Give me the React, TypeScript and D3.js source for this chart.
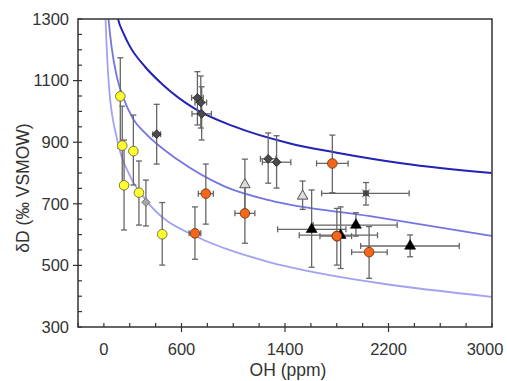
import React, { useRef, useEffect } from "react";
import * as d3 from "d3";

type Pt = { oh: number; dd: number; ohLo?: number; ohHi?: number; ddLo: number; ddHi: number };

// measured points, OH (ppm) vs dD (permil)
const yellowPoints: Pt[] = [
  { oh: 127, dd: 1049, ddLo: 880, ddHi: 1174 },
  { oh: 142, dd: 889, ddLo: 760, ddHi: 1017 },
  { oh: 156, dd: 760, ddLo: 615, ddHi: 907 },
  { oh: 228, dd: 871, ddLo: 761, ddHi: 988 },
  { oh: 271, dd: 736, ddLo: 631, ddHi: 839 },
  { oh: 451, dd: 601, ddLo: 501, ddHi: 704 },
];
const greyDiamondPoints: Pt[] = [{ oh: 325, dd: 705, ddLo: 628, ddHi: 777 }];
const darkDiamondPoints: Pt[] = [
  { oh: 408, dd: 926, ohLo: 378, ohHi: 438, ddLo: 829, ddHi: 1023 },
  { oh: 723, dd: 1044, ohLo: 678, ohHi: 768, ddLo: 956, ddHi: 1129 },
  { oh: 749, dd: 1029, ohLo: 704, ohHi: 794, ddLo: 946, ddHi: 1115 },
  { oh: 756, dd: 992, ohLo: 681, ohHi: 831, ddLo: 907, ddHi: 1080 },
  { oh: 1270, dd: 846, ohLo: 1210, ohHi: 1330, ddLo: 767, ddHi: 930 },
  { oh: 1335, dd: 835, ohLo: 1225, ohHi: 1445, ddLo: 751, ddHi: 921 },
];
const orangePoints: Pt[] = [
  { oh: 704, dd: 604, ohLo: 659, ohHi: 749, ddLo: 520, ddHi: 690 },
  { oh: 788, dd: 733, ohLo: 730, ohHi: 846, ddLo: 634, ddHi: 829 },
  { oh: 1090, dd: 669, ohLo: 1013, ohHi: 1167, ddLo: 572, ddHi: 765 },
  { oh: 1766, dd: 831, ohLo: 1644, ohHi: 1888, ddLo: 736, ddHi: 923 },
  { oh: 1801, dd: 595, ohLo: 1670, ohHi: 1915, ddLo: 501, ddHi: 685 },
  { oh: 2050, dd: 543, ohLo: 1915, ohHi: 2190, ddLo: 458, ddHi: 626 },
];
const openTrianglePoints: Pt[] = [
  { oh: 1090, dd: 762, ddLo: 680, ddHi: 845 },
  { oh: 1536, dd: 725, ddLo: 682, ddHi: 774 },
];
const blackTrianglePoints: Pt[] = [
  { oh: 1830, dd: 598, ohLo: 1510, ohHi: 2115, ddLo: 490, ddHi: 690 },
  { oh: 1606, dd: 617, ohLo: 1343, ohHi: 1871, ddLo: 494, ddHi: 745 },
  { oh: 1948, dd: 631, ohLo: 1618, ohHi: 2267, ddLo: 595, ddHi: 671 },
  { oh: 2367, dd: 563, ohLo: 1985, ohHi: 2747, ddLo: 528, ddHi: 599 },
];
const starPoints: Pt[] = [{ oh: 2026, dd: 734, ohLo: 1683, ohHi: 2360, ddLo: 696, ddHi: 769 }];

// model curves [OH, dD]
const curveUpper: [number, number][] = [
  [100, 1320], [111, 1298], [150, 1255], [200, 1212], [318, 1145], [447, 1090], [705, 1008],
  [1000, 952], [1439, 896], [1801, 866], [2314, 831], [2997, 800],
];
const curveMiddle: [number, number][] = [
  [30, 1330], [36, 1300], [60, 1208], [100, 1113], [150, 1045], [227, 975], [318, 930],
  [575, 842], [936, 756], [1284, 711], [2058, 660], [2997, 596],
];
const curveLower: [number, number][] = [
  [10, 1340], [13, 1300], [40, 1078], [99, 915], [200, 792], [318, 716], [744, 588],
  [936, 555], [1284, 510], [1903, 457], [2134, 442], [2997, 398],
];

const xMinorTicks = d3.range(-200, 3001, 200);
const xMajorTicks = [600, 1400, 2200];
const xTickLabels = [0, 600, 1400, 2200, 3000];
const yMinorTicks = d3.range(300, 1301, 50);
const yMajorTicks = [500, 700, 900, 1100];
const yTickLabels = [300, 500, 700, 900, 1100, 1300];

export default function App() {
  const svgRef = useRef<SVGSVGElement>(null);

  useEffect(() => {
    const svg = d3.select(svgRef.current);
    svg.selectAll("*").remove();

    const left = 78, top = 19, right = 492, bottom = 327;
    const x = d3.scaleLinear().domain([-200, 3000]).range([left, right]);
    const y = d3.scaleLinear().domain([300, 1300]).range([bottom, top]);
    const font = "Liberation Sans, Arial, sans-serif";
    const ink = "#333";

    svg.append("defs").append("clipPath").attr("id", "plotClip")
      .append("rect").attr("x", left).attr("y", top).attr("width", right - left).attr("height", bottom - top);

    // curves
    const line = d3.line<[number, number]>()
      .x((d) => x(d[0])).y((d) => y(d[1])).curve(d3.curveMonotoneX);
    const curves: [[number, number][], string, number][] = [
      [curveLower, "#a2a2f0", 1.8],
      [curveMiddle, "#7474e2", 1.8],
      [curveUpper, "#2222b4", 2],
    ];
    const cg = svg.append("g").attr("clip-path", "url(#plotClip)");
    curves.forEach(([pts, col, w]) => {
      cg.append("path").attr("d", line(pts)).attr("fill", "none").attr("stroke", col).attr("stroke-width", w);
    });

    // error bars
    const groups = [yellowPoints, greyDiamondPoints, darkDiamondPoints, orangePoints,
      openTrianglePoints, blackTrianglePoints, starPoints];
    const eg = svg.append("g").attr("stroke", "#666").attr("stroke-width", 1.3).attr("fill", "none");
    groups.flat().forEach((p) => {
      const cx = x(p.oh), cy = y(p.dd);
      eg.append("line").attr("x1", cx).attr("x2", cx).attr("y1", y(p.ddLo)).attr("y2", y(p.ddHi));
      eg.append("line").attr("x1", cx - 3).attr("x2", cx + 3).attr("y1", y(p.ddLo)).attr("y2", y(p.ddLo));
      eg.append("line").attr("x1", cx - 3).attr("x2", cx + 3).attr("y1", y(p.ddHi)).attr("y2", y(p.ddHi));
      if (p.ohLo !== undefined && p.ohHi !== undefined) {
        eg.append("line").attr("x1", x(p.ohLo)).attr("x2", x(p.ohHi)).attr("y1", cy).attr("y2", cy);
        eg.append("line").attr("x1", x(p.ohLo)).attr("x2", x(p.ohLo)).attr("y1", cy - 3).attr("y2", cy + 3);
        eg.append("line").attr("x1", x(p.ohHi)).attr("x2", x(p.ohHi)).attr("y1", cy - 3).attr("y2", cy + 3);
      }
    });

    // markers
    const mg = svg.append("g");
    const tr = (p: Pt) => `translate(${x(p.oh)},${y(p.dd)})`;
    mg.selectAll(".yel").data(yellowPoints).enter().append("circle")
      .attr("cx", (d) => x(d.oh)).attr("cy", (d) => y(d.dd)).attr("r", 4.8)
      .attr("fill", "#ffff2e").attr("stroke", "#6b6b3a").attr("stroke-width", 0.9);
    mg.selectAll(".gd").data(greyDiamondPoints).enter().append("path")
      .attr("d", d3.symbol().type(d3.symbolSquare).size(34)())
      .attr("transform", (d) => tr(d) + " rotate(45)")
      .attr("fill", "#a8a8a8").attr("stroke", "#6e6e6e").attr("stroke-width", 0.9);
    mg.selectAll(".dd").data(darkDiamondPoints).enter().append("path")
      .attr("d", d3.symbol().type(d3.symbolSquare).size(38)())
      .attr("transform", (d) => tr(d) + " rotate(45)")
      .attr("fill", "#4a4a4a").attr("stroke", "#2e2e2e").attr("stroke-width", 0.9);
    mg.selectAll(".or").data(orangePoints).enter().append("circle")
      .attr("cx", (d) => x(d.oh)).attr("cy", (d) => y(d.dd)).attr("r", 4.8)
      .attr("fill", "#f4661a").attr("stroke", "#7a3510").attr("stroke-width", 0.9);
    mg.selectAll(".ot").data(openTrianglePoints).enter().append("path")
      .attr("d", d3.symbol().type(d3.symbolTriangle).size(48)())
      .attr("transform", tr)
      .attr("fill", "#dcdcdc").attr("stroke", "#555").attr("stroke-width", 1);
    mg.selectAll(".bt").data(blackTrianglePoints).enter().append("path")
      .attr("d", d3.symbol().type(d3.symbolTriangle).size(52)())
      .attr("transform", tr)
      .attr("fill", "#000").attr("stroke", "#000").attr("stroke-width", 0.6);
    // the orange point that sits on a hidden triangle is redrawn on top
    mg.selectAll(".or2").data(orangePoints.filter((d) => d.oh === 1801)).enter().append("circle")
      .attr("cx", (d) => x(d.oh)).attr("cy", (d) => y(d.dd)).attr("r", 4.8)
      .attr("fill", "#f4661a").attr("stroke", "#7a3510").attr("stroke-width", 0.9);
    mg.selectAll(".st").data(starPoints).enter().append("g").attr("transform", tr)
      .each(function () {
        const g = d3.select(this);
        g.append("rect").attr("x", -2.5).attr("y", -2.5).attr("width", 5).attr("height", 5)
          .attr("fill", "#555").attr("stroke", "#333").attr("stroke-width", 0.6);
        g.append("path").attr("d", d3.symbol().type(d3.symbolTimes).size(40)())
          .attr("fill", "none").attr("stroke", "#333").attr("stroke-width", 0.9);
      });

    // frame
    svg.append("rect").attr("x", left).attr("y", top).attr("width", right - left).attr("height", bottom - top)
      .attr("fill", "none").attr("stroke", ink).attr("stroke-width", 1.5);

    // ticks
    const ax = svg.append("g").attr("stroke", ink).attr("stroke-width", 1.2);
    xMinorTicks.forEach((t) => {
      const major = xMajorTicks.includes(t);
      ax.append("line").attr("x1", x(t)).attr("x2", x(t))
        .attr("y1", bottom - 4).attr("y2", major ? bottom + 5 : bottom);
    });
    yMinorTicks.forEach((t) => {
      const major = yMajorTicks.includes(t);
      ax.append("line").attr("y1", y(t)).attr("y2", y(t))
        .attr("x1", major ? left - 5 : left).attr("x2", left + 4);
    });

    // keep the last x label inside the page
    svg.append("g").selectAll("text").data(xTickLabels).enter().append("text")
      .attr("x", (d) => Math.min(x(d), 485)).attr("y", 355).attr("text-anchor", "middle")
      .attr("font-family", font).attr("font-size", 16.5).attr("fill", ink).text((d) => d);
    svg.append("g").selectAll("text").data(yTickLabels).enter().append("text")
      .attr("x", 69).attr("y", (d) => y(d)).attr("dy", "0.35em").attr("text-anchor", "end")
      .attr("font-family", font).attr("font-size", 16.5).attr("fill", ink).text((d) => d);

    svg.append("text").attr("x", 288).attr("y", 376).attr("text-anchor", "middle")
      .attr("font-family", font).attr("font-size", 17.5).attr("fill", ink).text("OH (ppm)");
    svg.append("text").attr("transform", "translate(29,188) rotate(-90)").attr("text-anchor", "middle")
      .attr("font-family", font).attr("font-size", 17.5).attr("fill", ink).text("δD (‰ VSMOW)");
  }, []);

  return (
    <svg ref={svgRef} width={507} height={381}
      style={{ position: "absolute", left: 0, top: 0, background: "#fff" }} />
  );
}
